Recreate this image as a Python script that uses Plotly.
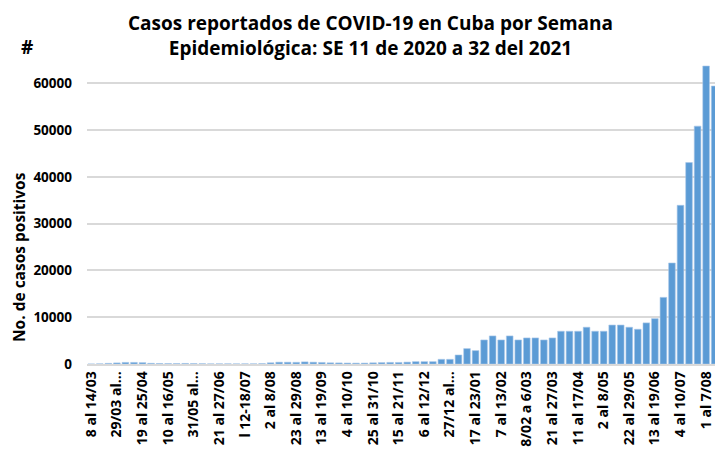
"""Casos reportados de COVID-19 en Cuba por semana epidemiológica."""

import plotly.graph_objects as go

# casos por semana, SE 11/2020 ... SE 32/2021 (74 barras)
cases_2020 = [
    4, 36, 130, 230, 340, 340, 290, 150, 110, 90,
    90, 120, 90, 60, 30, 40, 40, 30, 40, 40,
    80, 260, 390, 380, 360, 450, 390, 330, 250, 230,
    200, 180, 190, 250, 300, 340, 330, 400,
    500, 500, 500, 1000, 1000,
]
cases_2021 = [
    1930, 3290, 2860, 5140, 6000, 5140, 6000, 5140, 5570, 5570,
    5140, 5570, 7000, 7000, 7000, 7860, 7000, 7000, 8330, 8330,
    7860, 7430, 8790, 9700, 14250, 21600, 33930, 43070, 50860, 63710,
    59430,
]
cases = cases_2020 + cases_2021

tick_labels = [
    "8 al 14/03", "29/03 al...", "19 al 25/04", "10 al 16/05", "31/05 al...",
    "21 al 27/06", "l 12-18/07", "2 al 8/08", "23 al 29/08", "13 al 19/09",
    "4 al 10/10", "25 al 31/10", "15 al 21/11", "6 al 12/12", "27/12 al...",
    "17 al 23/01", "7 al 13/02", "8/02 a 6/03", "21 al 27/03", "11 al 17/04",
    "2 al 8/05", "22 al 29/05", "13 al 19/06", "4 al 10/07", "1 al 7/08",
]
tick_step = 3

FONT = "Open Sans"
weeks = list(range(len(cases)))

fig = go.Figure(go.Bar(
    x=weeks,
    y=cases,
    marker=dict(color="#5B9BD5", line=dict(color="#A9C8EA", width=0.6)),
    hovertemplate="%{y}<extra></extra>",
))

# plot area: x 87..715 px, y 60..364 px
W, H = 715, 450
L, R, T, B = 87, 0, 60, 450 - 364
pw, ph = W - L - R, H - T - B


def px(x):
    return (x - L) / pw


def py(y):
    return (H - B - y) / ph


fig.update_layout(
    width=W,
    height=H,
    margin=dict(l=L, r=R, t=T, b=B, autoexpand=False),
    paper_bgcolor="white",
    plot_bgcolor="white",
    font=dict(family=FONT, color="black"),
    bargap=0.22,
    showlegend=False,
    xaxis=dict(
        tickmode="array",
        tickvals=weeks[::tick_step],
        ticktext=tick_labels,
        tickangle=-90,
        tickfont=dict(size=14, weight="bold", color="black"),
        showgrid=False,
        showline=True,
        linecolor="#D9D9D9",
        linewidth=1.5,
        ticks="",
        automargin=False,
        # the source image crops the last bar at the right edge
        range=[-0.5, len(cases) - 0.96],
    ),
    yaxis=dict(
        range=[0, 65000],
        tickvals=list(range(0, 60001, 10000)),
        tickformat="d",
        tickfont=dict(size=13.5, weight="bold", color="black"),
        showgrid=True,
        gridcolor="#D9D9D9",
        gridwidth=1.5,
        zeroline=False,
        automargin=False,
        ticklabelstandoff=14,
    ),
    annotations=[
        dict(
            text="Casos reportados de COVID-19 en Cuba por Semana<br>"
                 "Epidemiológica: SE 11 de 2020 a 32 del 2021",
            x=px(370), y=py(36), xref="paper", yref="paper",
            xanchor="center", yanchor="middle", showarrow=False,
            font=dict(size=19, weight="bold", color="black"),
        ),
        dict(
            text="#", x=px(27), y=py(47), xref="paper", yref="paper",
            xanchor="center", yanchor="middle", showarrow=False,
            font=dict(size=19, weight="bold", color="black"),
        ),
        dict(
            text="No. de casos positivos", x=px(19), y=py(257),
            xref="paper", yref="paper", textangle=-90,
            xanchor="center", yanchor="middle", showarrow=False,
            font=dict(size=15.5, weight="bold", color="black"),
        ),
    ],
)

# drop the default body margin so the figure fills the window exactly
fig.write_html(
    "out.html",
    config={"displayModeBar": False},
    post_script="document.body.style.margin='0';document.body.style.overflow='hidden';",
)
